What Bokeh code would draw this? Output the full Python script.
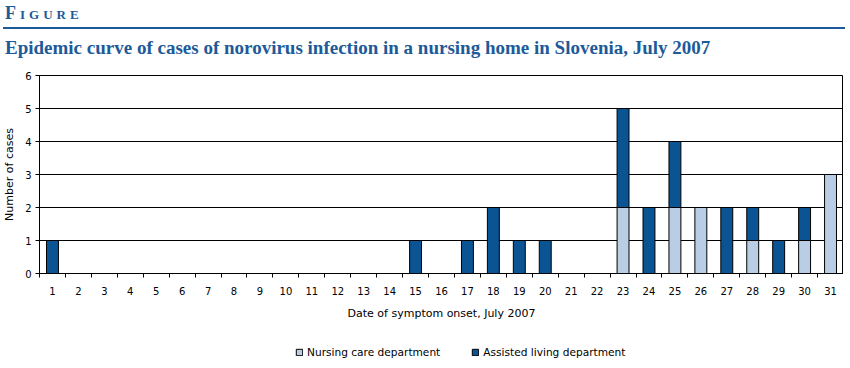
from bokeh.plotting import figure
from bokeh.models import (Div, FixedTicker, Legend, LegendItem, ColumnDataSource, Range1d)
from bokeh.layouts import column
from bokeh.embed import file_html
from bokeh.resources import INLINE

# ---- data ----
days = list(range(1, 32))
nursing = [0]*14 + [0, 0, 0, 0, 0, 0, 0, 0, 2, 0, 2, 2, 0, 1, 0, 1, 3]
assisted = [1] + [0]*13 + [1, 0, 1, 2, 1, 1, 0, 0, 3, 2, 2, 0, 2, 1, 1, 1, 0]
series_names = ["Nursing care department", "Assisted living department"]
y_ticks = [0, 1, 2, 3, 4, 5, 6]
title_text = "Epidemic curve of cases of norovirus infection in a nursing home in Slovenia, July 2007"
x_label = "Date of symptom onset, July 2007"
y_label = "Number of cases"

LIGHT = "#b9cde4"
DARK = "#0b5493"
TBLUE = "#1d5a99"

header = Div(
    text=(
        f'<div style="font-family:\'Liberation Serif\';font-weight:bold;color:{TBLUE};'
        f'font-size:18px;letter-spacing:4px;font-variant:small-caps;line-height:18px;'
        f'margin-top:4px;padding-left:5px;">Figure</div>'
        f'<div style="border-top:2px solid {TBLUE};width:842px;margin-top:5px;margin-left:3px;"></div>'
        f'<div style="font-family:\'Liberation Serif\';font-weight:bold;color:{TBLUE};'
        f'font-size:19px;line-height:20px;margin-top:9px;padding-left:5px;">{title_text}</div>'
    ),
    width=834, height=60, margin=(0, 0, 0, 0),
)

src = ColumnDataSource(dict(x=days, nursing=nursing, assisted=assisted))

p = figure(frame_width=804, frame_height=198, output_backend="svg", toolbar_location=None,
           x_range=Range1d(0.5, 31.5), y_range=Range1d(0, 6),
           min_border_left=30, min_border_top=15, min_border_right=0, min_border_bottom=46,
           margin=(0, 0, 0, 0))

r = p.vbar_stack(["nursing", "assisted"], x="x", width=0.46, source=src,
                 color=[LIGHT, DARK], line_color="black", line_width=1)

p.xaxis.ticker = FixedTicker(ticks=days, minor_ticks=[d + 0.5 for d in range(0, 32)])
p.xaxis.minor_tick_in = 0
p.xaxis.minor_tick_out = 4
p.xaxis.minor_tick_line_color = "black"
p.yaxis.ticker = FixedTicker(ticks=y_ticks)
p.yaxis.minor_tick_line_color = None
p.yaxis.major_tick_in = 0
p.yaxis.major_tick_out = 4
p.axis.axis_line_color = "black"
p.axis.major_tick_line_color = "black"
p.xaxis.major_tick_line_color = None
p.axis.major_label_text_font = "DejaVu Sans"
p.axis.major_label_text_font_size = "10px"
p.axis.major_label_text_color = "black"
p.axis.axis_label_text_font = "DejaVu Sans"
p.axis.axis_label_text_font_size = "11px"
p.axis.axis_label_text_font_style = "normal"
p.axis.axis_label_text_color = "black"
p.xaxis.axis_label = x_label
p.yaxis.axis_label = y_label
p.xaxis.major_label_standoff = 7
p.xaxis.axis_label_standoff = 9
p.yaxis.major_label_standoff = 4
p.yaxis.axis_label_standoff = 6

p.xgrid.grid_line_color = None
p.ygrid.ticker = FixedTicker(ticks=y_ticks)
p.ygrid.grid_line_color = "black"
p.ygrid.grid_line_alpha = 1
p.outline_line_color = "black"
p.outline_line_alpha = 1

# legend in its own strip below the chart (swatch renderers sit outside the visible range)
lf = figure(width=834, height=49, output_backend="svg", toolbar_location=None,
            x_range=Range1d(0, 1), y_range=Range1d(0, 1),
            min_border_left=0, min_border_right=0, min_border_top=0, min_border_bottom=0,
            margin=(0, 0, 0, 0))
lf.axis.visible = False
lf.grid.grid_line_color = None
lf.outline_line_color = None
lr1 = lf.vbar(x=[5], bottom=[4], top=[5], width=0.1, color=LIGHT, line_color="black")
lr2 = lf.vbar(x=[5], bottom=[4], top=[5], width=0.1, color=DARK, line_color="black")

legend = Legend(items=[LegendItem(label=series_names[0], renderers=[lr1]),
                       LegendItem(label=series_names[1], renderers=[lr2])],
                orientation="horizontal", location=(256, 12),
                label_text_font="DejaVu Sans", label_text_font_size="10.6px",
                label_text_color="black",
                glyph_width=8, glyph_height=8, spacing=31, label_standoff=4,
                label_height=14, border_line_color=None, background_fill_alpha=0,
                margin=0, padding=2)
lf.add_layout(legend, "center")

layout = column(header, p, lf, spacing=0, margin=(0, 0, 0, 0))
open("out.html", "w").write(file_html(layout, INLINE))
